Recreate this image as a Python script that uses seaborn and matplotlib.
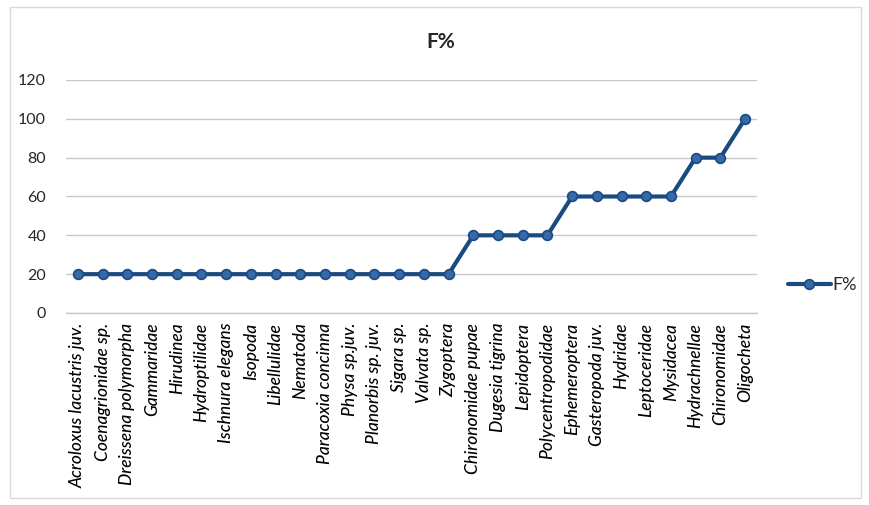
import matplotlib
matplotlib.use("Agg")
import matplotlib.pyplot as plt
import seaborn as sns
import pandas as pd
from matplotlib.patches import Rectangle

taxa = [
    "Acroloxus lacustris juv.", "Coenagrionidae sp.", "Dreissena polymorpha",
    "Gammaridae", "Hirudinea", "Hydroptilidae", "Ischnura elegans", "Isopoda",
    "Libellulidae", "Nematoda", "Paracoxia concinna", "Physa sp.juv.",
    "Planorbis sp. juv.", "Sigara sp.", "Valvata sp.", "Zygoptera",
    "Chironomidae pupae", "Dugesia tigrina", "Lepidoptera", "Polycentropodidae",
    "Ephemeroptera", "Gasteropoda juv.", "Hydridae", "Leptoceridae", "Mysidacea",
    "Hydrachnellae", "Chironomidae", "Oligocheta",
]
freq = [20, 20, 20, 20, 20, 20, 20, 20, 20, 20, 20, 20, 20, 20, 20, 20,
        40, 40, 40, 40, 60, 60, 60, 60, 60, 80, 80, 100]
yticks = [0, 20, 40, 60, 80, 100, 120]

df = pd.DataFrame({"taxon": taxa, "F%": freq, "pos": range(len(taxa))})

sns.set_theme(style="white")
plt.rcParams["font.family"] = ["Lato", "DejaVu Sans"]

fig = plt.figure(figsize=(8.7, 5.05), dpi=100)
ax = fig.add_axes([0.0754, 0.3802, 0.7952, 0.4614])

sns.lineplot(data=df, x="pos", y="F%", ax=ax, color="#1B4A80", linewidth=3,
             marker="o", markersize=7, markerfacecolor="#3569AA",
             markeredgecolor="#1B4A80", markeredgewidth=1.2, label="F%")

ax.set_xlim(-0.5, len(taxa) - 0.5)
ax.set_ylim(0, 120)
ax.set_yticks(yticks)
ax.set_yticklabels([str(v) for v in yticks], fontsize=11.5, color="#262626")
ax.set_xticks(range(len(taxa)))
ax.set_xticklabels(taxa, rotation=90, fontsize=12.5, fontstyle="italic",
                   fontweight="medium", color="black")
ax.tick_params(axis="x", length=0, pad=7)
ax.tick_params(axis="y", length=0, pad=14)
ax.grid(axis="y", color="#C8C8C8", linewidth=1)
ax.set_axisbelow(True)
for s in ["top", "right", "left"]:
    ax.spines[s].set_visible(False)
ax.spines["bottom"].set_color("#C8C8C8")
ax.spines["bottom"].set_linewidth(1)
ax.set_xlabel("")
ax.set_ylabel("")

leg = ax.legend(loc="center left", bbox_to_anchor=(1.02, 0.12), frameon=False,
                fontsize=13, handlelength=2.4, handletextpad=0.1)

fig.text(0.507, 0.917, "F%", ha="center", va="center", fontsize=15, fontweight="bold")

fig.patches.append(Rectangle((0.012, 0.014), 0.978, 0.972, transform=fig.transFigure,
                             fill=False, edgecolor="#D9D9D9", linewidth=1))

fig.savefig("out.png", dpi=100)
